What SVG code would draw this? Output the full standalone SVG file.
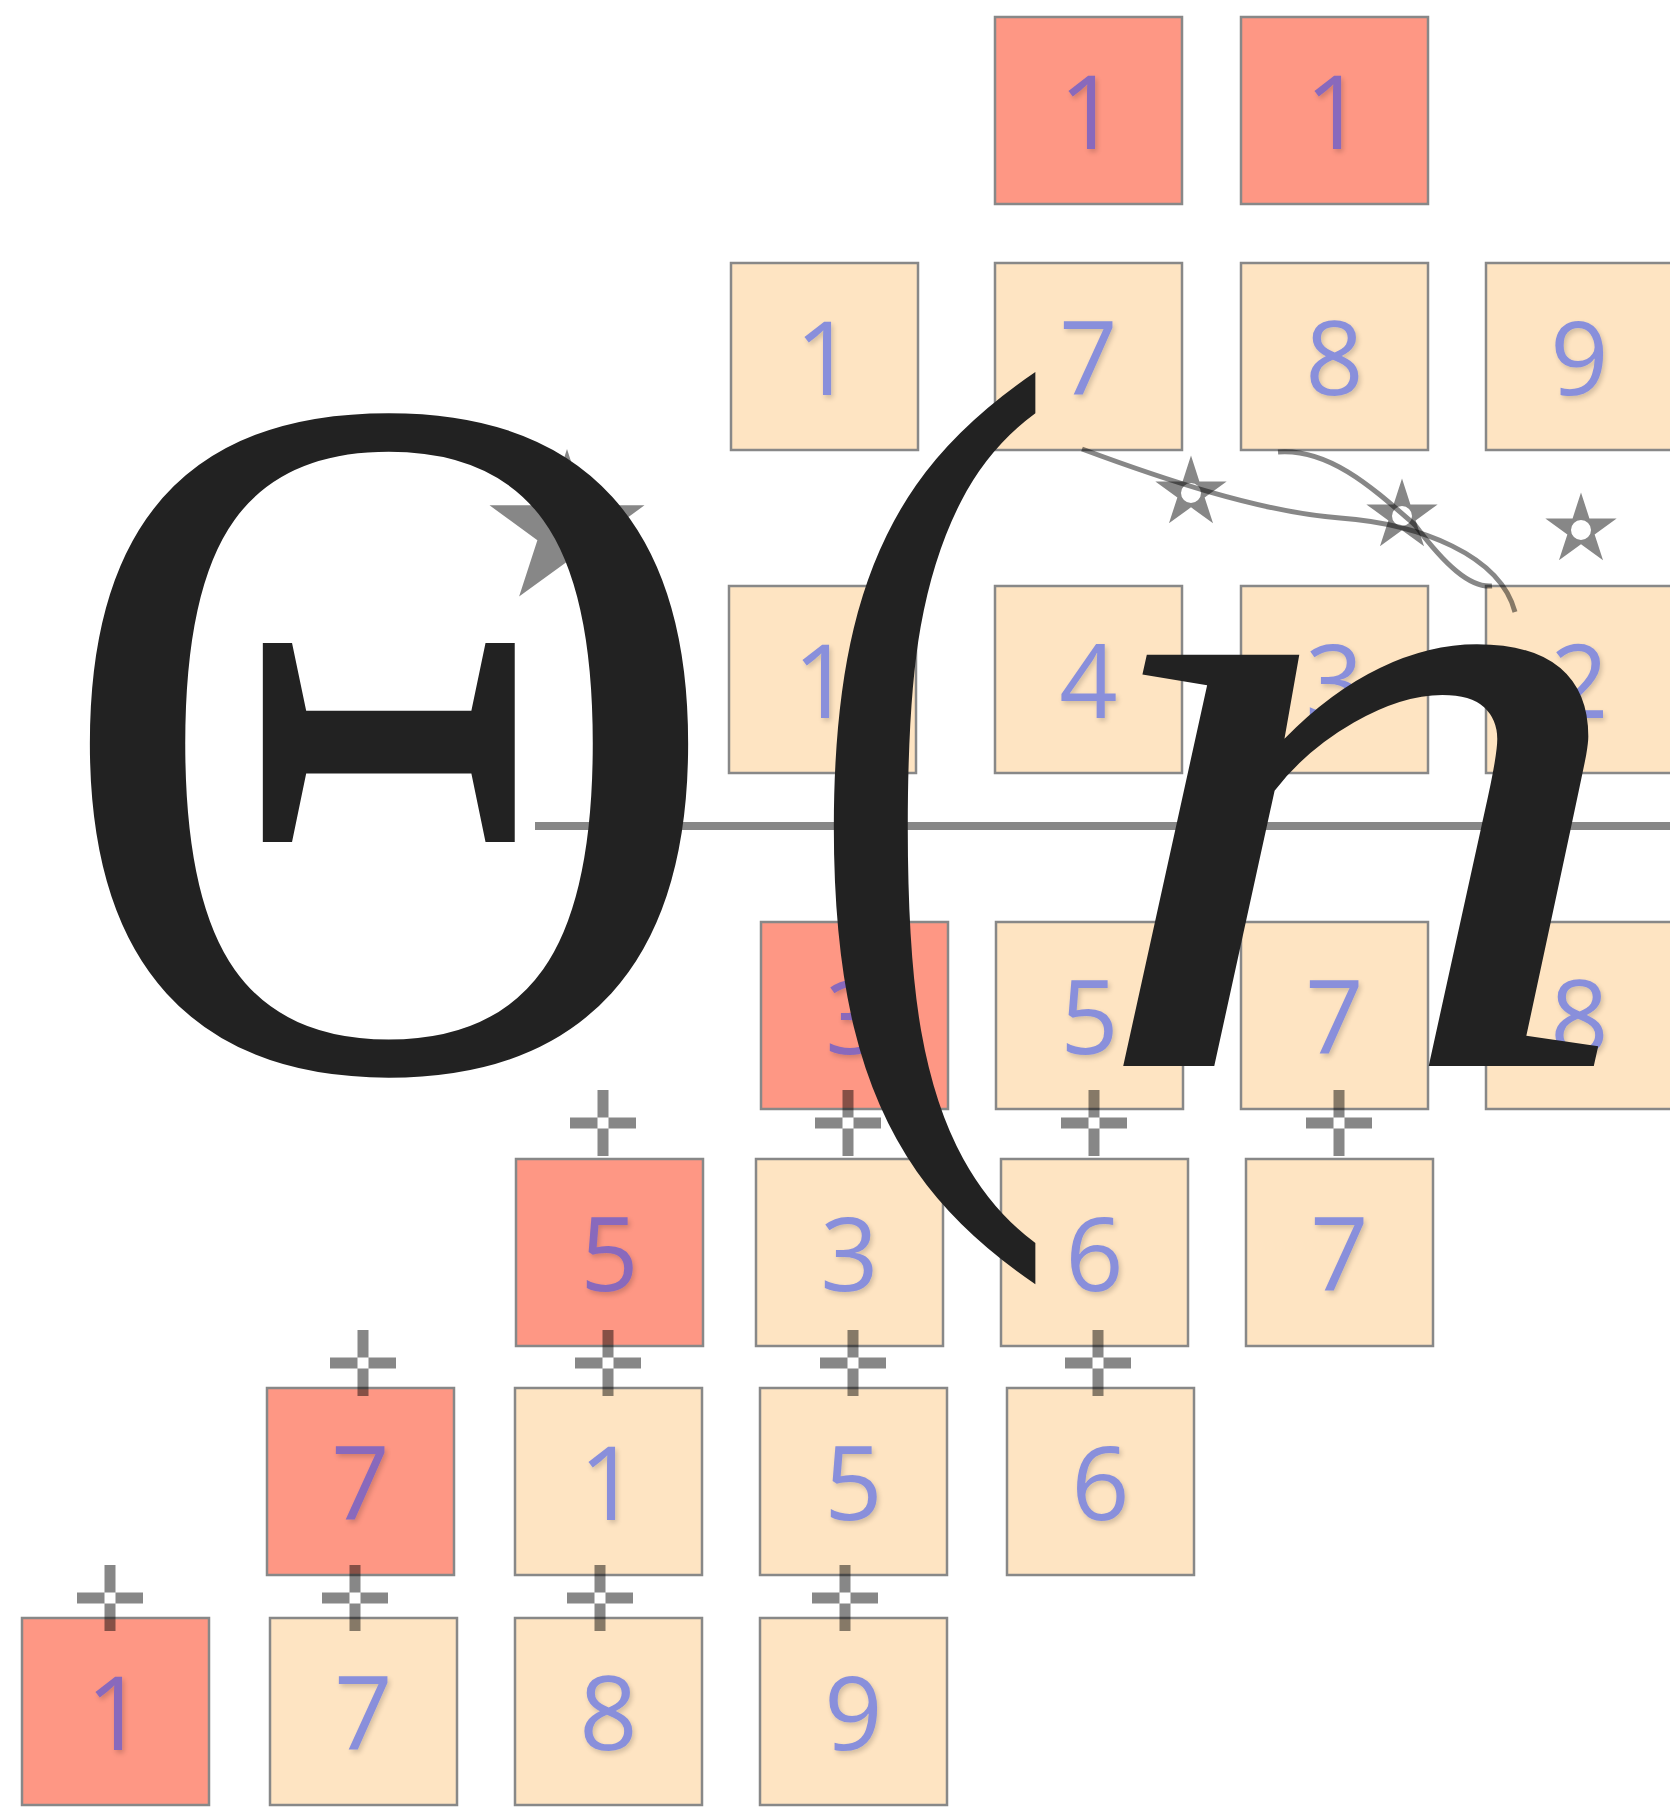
<svg xmlns="http://www.w3.org/2000/svg" width="1670" height="1812" viewBox="0 0 1670 1812">
<defs>
<style>
.box{stroke:#888;stroke-width:2.5}
.r{fill:#fe9784}
.b{fill:#fee4c2}
.lbl{font-family:"Open Sans",Lato,sans-serif;font-size:102px;fill:#143cf5;text-anchor:middle;opacity:0.5}
.ink{fill:#000;fill-opacity:0.47}
.crv{fill:none;stroke:#000;stroke-opacity:0.47;stroke-width:5}
.math{font-family:"Liberation Serif","Times New Roman",serif;fill:#222;text-anchor:middle}
</style>
<filter id="sh" x="-30%" y="-30%" width="160%" height="160%">
<feDropShadow dx="2" dy="3" stdDeviation="2.5" flood-color="#000" flood-opacity="0.35"/>
</filter>
<path id="plus" fill-rule="evenodd" d="M-33,-5.5h66v11h-66z M-5.5,-33h11v66h-11z"/>
<path id="star" fill-rule="evenodd" d="M0,-37.5 L8.42,-11.59 L35.66,-11.59 L13.63,4.43 L22.04,30.34 L0,14.33 L-22.04,30.34 L-13.63,4.43 L-35.66,-11.59 L-8.42,-11.59 Z M10,0 A10,10 0 1,0 -10,0 A10,10 0 1,0 10,0 Z"/>
</defs>
<rect width="1670" height="1812" fill="#fff"/>

<path class="ink" transform="translate(567,530.5) scale(2.173)" d="M0,-37.5 L8.42,-11.59 L35.66,-11.59 L13.63,4.43 L22.04,30.34 L0,14.33 L-22.04,30.34 L-13.63,4.43 L-35.66,-11.59 L-8.42,-11.59 Z"/>

<g id="nodes">
<g id="r1c1"><rect class="box r" x="995" y="17" width="187" height="187"/><text class="lbl" filter="url(#sh)" x="1088.5" y="149">1</text></g>
<g id="r1c2"><rect class="box r" x="1241" y="17" width="187" height="187"/><text class="lbl" filter="url(#sh)" x="1334.5" y="149">1</text></g>

<g id="r2c1"><rect class="box b" x="731" y="263" width="187" height="187"/><text class="lbl" filter="url(#sh)" x="824.5" y="395">1</text></g>
<g id="r2c2"><rect class="box b" x="995" y="263" width="187" height="187"/><text class="lbl" filter="url(#sh)" x="1088.5" y="395">7</text></g>
<g id="r2c3"><rect class="box b" x="1241" y="263" width="187" height="187"/><text class="lbl" filter="url(#sh)" x="1334.5" y="395">8</text></g>
<g id="r2c4"><rect class="box b" x="1486" y="263" width="187" height="187"/><text class="lbl" filter="url(#sh)" x="1579.5" y="395">9</text></g>

<g id="r3c1"><rect class="box b" x="729" y="586" width="187" height="187"/><text class="lbl" filter="url(#sh)" x="822.5" y="718">1</text></g>
<g id="r3c2"><rect class="box b" x="995" y="586" width="187" height="187"/><text class="lbl" filter="url(#sh)" x="1088.5" y="718">4</text></g>
<g id="r3c3"><rect class="box b" x="1241" y="586" width="187" height="187"/><text class="lbl" filter="url(#sh)" x="1334.5" y="718">3</text></g>
<g id="r3c4"><rect class="box b" x="1486" y="586" width="187" height="187"/><text class="lbl" filter="url(#sh)" x="1579.5" y="718">2</text></g>

<g id="r4c1"><rect class="box r" x="761" y="922" width="187" height="187"/><text class="lbl" filter="url(#sh)" x="854.5" y="1054">3</text></g>
<g id="r4c2"><rect class="box b" x="996" y="922" width="187" height="187"/><text class="lbl" filter="url(#sh)" x="1089.5" y="1054">5</text></g>
<g id="r4c3"><rect class="box b" x="1241" y="922" width="187" height="187"/><text class="lbl" filter="url(#sh)" x="1334.5" y="1054">7</text></g>
<g id="r4c4"><rect class="box b" x="1486" y="922" width="187" height="187"/><text class="lbl" filter="url(#sh)" x="1579.5" y="1054">8</text></g>

<g id="r5c1"><rect class="box r" x="516" y="1159" width="187" height="187"/><text class="lbl" filter="url(#sh)" x="609.5" y="1291">5</text></g>
<g id="r5c2"><rect class="box b" x="756" y="1159" width="187" height="187"/><text class="lbl" filter="url(#sh)" x="849.5" y="1291">3</text></g>
<g id="r5c3"><rect class="box b" x="1001" y="1159" width="187" height="187"/><text class="lbl" filter="url(#sh)" x="1094.5" y="1291">6</text></g>
<g id="r5c4"><rect class="box b" x="1246" y="1159" width="187" height="187"/><text class="lbl" filter="url(#sh)" x="1339.5" y="1291">7</text></g>

<g id="r6c1"><rect class="box r" x="267" y="1388" width="187" height="187"/><text class="lbl" filter="url(#sh)" x="360.5" y="1520">7</text></g>
<g id="r6c2"><rect class="box b" x="515" y="1388" width="187" height="187"/><text class="lbl" filter="url(#sh)" x="608.5" y="1520">1</text></g>
<g id="r6c3"><rect class="box b" x="760" y="1388" width="187" height="187"/><text class="lbl" filter="url(#sh)" x="853.5" y="1520">5</text></g>
<g id="r6c4"><rect class="box b" x="1007" y="1388" width="187" height="187"/><text class="lbl" filter="url(#sh)" x="1100.5" y="1520">6</text></g>

<g id="r7c1"><rect class="box r" x="22" y="1618" width="187" height="187"/><text class="lbl" filter="url(#sh)" x="115.5" y="1750">1</text></g>
<g id="r7c2"><rect class="box b" x="270" y="1618" width="187" height="187"/><text class="lbl" filter="url(#sh)" x="363.5" y="1750">7</text></g>
<g id="r7c3"><rect class="box b" x="515" y="1618" width="187" height="187"/><text class="lbl" filter="url(#sh)" x="608.5" y="1750">8</text></g>
<g id="r7c4"><rect class="box b" x="760" y="1618" width="187" height="187"/><text class="lbl" filter="url(#sh)" x="853.5" y="1750">9</text></g>
</g>

<g id="connectors">
<path class="crv" d="M1082,449 C1160,478 1260,512 1340,518 C1420,524 1500,555 1515,612"/>
<path class="crv" d="M1278,452 C1330,448 1375,490 1415,525 C1445,565 1470,588 1492,586"/>
<use href="#star" class="ink" x="1191" y="493"/>
<use href="#star" class="ink" x="1402" y="516"/>
<use href="#star" class="ink" x="1581" y="530"/>
<use href="#plus" class="ink" x="603" y="1123"/>
<use href="#plus" class="ink" x="848" y="1123"/>
<use href="#plus" class="ink" x="1094" y="1123"/>
<use href="#plus" class="ink" x="1339" y="1123"/>
<use href="#plus" class="ink" x="363" y="1363"/>
<use href="#plus" class="ink" x="608" y="1363"/>
<use href="#plus" class="ink" x="853" y="1363"/>
<use href="#plus" class="ink" x="1098" y="1363"/>
<use href="#plus" class="ink" x="110" y="1598"/>
<use href="#plus" class="ink" x="355" y="1598"/>
<use href="#plus" class="ink" x="600" y="1598"/>
<use href="#plus" class="ink" x="845" y="1598"/>
<rect class="ink" x="535" y="822" width="1135" height="8"/>
</g>

<g id="formula">
<text class="math" font-size="989" transform="translate(389,1068) scale(0.945,1)">Θ</text>
<text class="math" font-size="1006" transform="translate(930,1070) scale(0.78,1)">(</text>
<text class="math" font-size="895" font-style="italic" transform="translate(1364,1066) scale(1.255,1)">n</text>
</g>
</svg>
